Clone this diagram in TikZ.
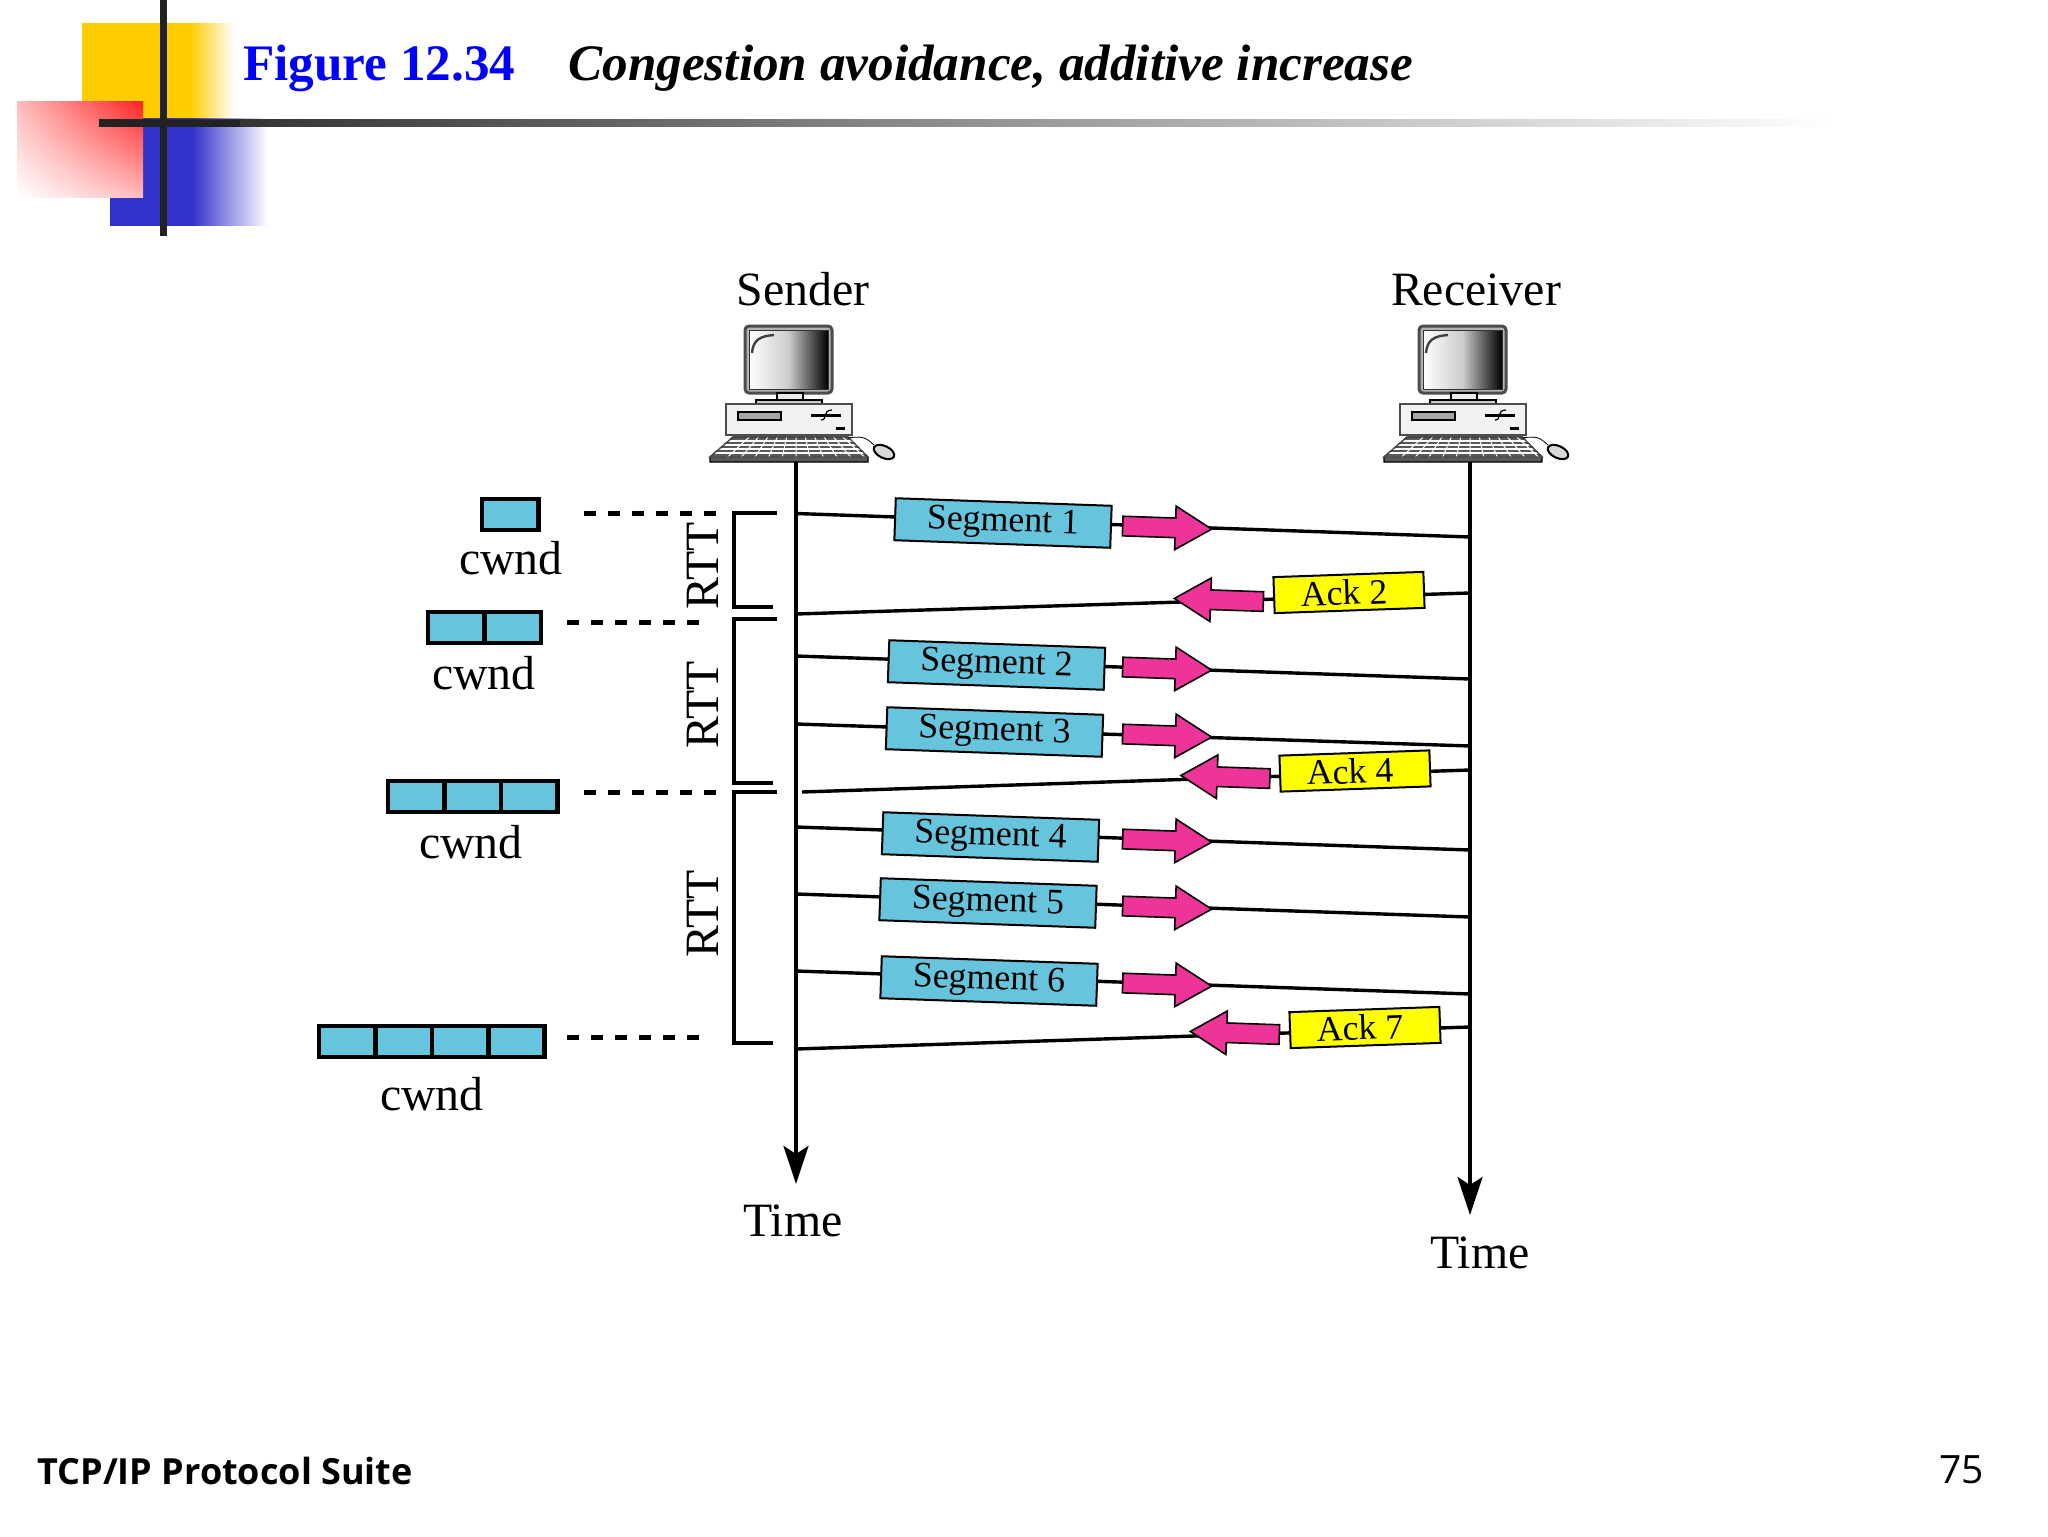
\documentclass[tikz,border=0pt]{standalone}
\usepackage{fontspec}
\setmainfont{Liberation Serif}
\newfontfamily\footfont{Open Sans}
\usepackage{xcolor}
\usetikzlibrary{positioning, shapes.arrows, arrows.meta, shadings}
\definecolor{segblue}{HTML}{66C5DC}
\definecolor{ackyellow}{HTML}{FFFF00}
\definecolor{hotpink}{HTML}{EE3399}
\definecolor{logoyellow}{HTML}{FFCC00}
\definecolor{logoblue}{HTML}{3333CC}
\definecolor{logored}{HTML}{FF2222}
\definecolor{logoline}{HTML}{222222}
\definecolor{titleblue}{HTML}{0000FF}
\pgfdeclarehorizontalshading{yellowfade}{100bp}{color(0bp)=(logoyellow); color(60.5bp)=(logoyellow); color(75bp)=(white); color(100bp)=(white)}
\pgfdeclarehorizontalshading{bluefade}{100bp}{color(0bp)=(logoblue); color(51bp)=(logoblue); color(75bp)=(white); color(100bp)=(white)}
\tikzset{
    pics/computer/.style={code={
        % monitor
        \draw[line width=1.5pt, draw=black!70, fill=black!30, rounded corners=2pt] (-51,-136) rectangle (36,-69);
        \shade[left color=white, right color=black, middle color=white!80!black, draw=black!80, line width=.5pt] (-47,-132) rectangle (32,-73);
        \draw[line width=1.2pt, black!75] (-44,-109) .. controls (-43,-122) and (-36,-126) .. (-22,-127);
        \draw[line width=.6pt, fill=black!8] (-19,-69) rectangle (7,-61);
        \draw[line width=.8pt, fill=black!20] (-40,-62) rectangle (26,-58);
        % case
        \draw[line width=.7pt, draw=black!70, fill=black!5] (-70,-58) rectangle (56,-27);
        \draw[line width=.6pt, fill=black!35] (-58,-50) rectangle (-15,-42);
        \draw[line width=1.5pt] (15,-47) -- (45,-47);
        \draw[line width=.6pt] (25,-42) .. controls (32,-42) and (26,-52) .. (36,-52);
        \fill (40,-35) rectangle (49,-32);
        % keyboard
        \draw[line width=.7pt, fill=black!65] (-63,-25) -- (52,-25) -- (72,-5) -- (72,0) -- (-86,0) -- (-86,-5) -- cycle;
        \foreach \kx in {-0.9,-0.72,...,0.95} {
            \draw[white, line width=.5pt] (\kx*52,-25) -- (\kx*76,-5);
        }
        \foreach \ky in {-21,-17,-13,-9} {
            \draw[white, line width=.6pt] (-82,\ky) -- (70,\ky);
        }
        \draw[line width=.7pt, draw=black!70] (-63,-25) -- (52,-25) -- (72,-5) -- (-86,-5) -- cycle;
        % mouse
        \draw[line width=.4pt] (52,-24) .. controls (70,-27) and (72,-22) .. (78,-17);
        \draw[line width=1pt, fill=black!15, rotate around={-25:(88,-10)}] (88,-10) ellipse (11 and 6);
    }},
    segbox/.style={rectangle, draw, line width=1pt, fill=segblue, font=\fontsize{17.9}{20}\selectfont, minimum width=108pt, minimum height=21pt, inner sep=0pt, rotate=-2},
    ackbox/.style={rectangle, draw, line width=1pt, fill=ackyellow, font=\fontsize{17.9}{20}\selectfont, minimum width=75pt, minimum height=18pt, inner sep=0pt, rotate=2, execute at end node={\hspace{5pt}}},
    blockarrow/.style={single arrow, draw, line width=.8pt, fill=hotpink, minimum height=44.5pt, minimum width=21pt, single arrow head extend=6pt, single arrow tip angle=62, inner xsep=0pt, inner ysep=4.5pt, anchor=center},
    cell/.style={rectangle, draw, line width=2.3pt, fill=segblue, minimum width=28.2pt, minimum height=15.5pt, inner sep=0pt, outer sep=0pt},
    txtlabel/.style={font=\fontsize{23.9}{26}\selectfont, anchor=base, inner sep=0pt},
    msg/.style={line width=1.7pt},
    timeline/.style={line width=2pt, -{Stealth[length=19pt, width=12.5pt, inset=4pt]}},
    dashline/.style={line width=2.5pt, dash pattern=on 6pt off 6pt},
    bracket/.style={line width=2pt}
}
\begin{document}
\begin{tikzpicture}[x=0.5pt, y=-0.5pt]
    \useasboundingbox (0,0) rectangle (2048,1536);

    % logo
    \shade[shading=yellowfade] (82,24) rectangle (234,125);
    \shade[shading=bluefade] (110,118) rectangle (268,225);
    \shade[shading=bilinear interpolation, upper right=logored, lower left=white, upper left=logored!30, lower right=logored!30] (17,102) rectangle (143,197);
    \shade[left color=logoline, right color=white] (99,119.5) rectangle (1830,126.5);
    \fill[logoline] (99,119.5) rectangle (240,126.5);
    \fill[logoline] (159.5,0) rectangle (166.5,236);

    % title and footer
    \node[anchor=base west, inner sep=0pt, text=titleblue, font=\fontsize{25.6}{28}\selectfont\bfseries] (figno) at (243,81) {Figure 12.34};
    \node[anchor=base west, inner sep=0pt, font=\fontsize{25.6}{28}\selectfont\bfseries\itshape] (figtitle) at (568,81) {Congestion avoidance, additive increase};
    \node[anchor=base west, inner sep=0pt, font=\footfont\fontsize{18}{20}\selectfont\bfseries] (suite) at (37,1484) {TCP/IP Protocol Suite};
    \node[anchor=base east, inner sep=0pt, font=\footfont\fontsize{19.5}{24}\selectfont] (pageno) at (1984,1483) {75};

    % hosts
    \node[txtlabel] (sender) at (803,305) {Sender};
    \node[txtlabel] (receiver) at (1476,305) {Receiver};
    \pic at (796,462) {computer};
    \pic at (1470,462) {computer};

    \coordinate (sendtop) at (796,462);
    \coordinate (sendend) at (796,1184);
    \coordinate (recvtop) at (1470,462);
    \coordinate (recvend) at (1470,1215);
    \draw[timeline] (sendtop) -- (sendend);
    \draw[timeline] (recvtop) -- (recvend);
    \node[txtlabel] (time1) at (793,1236) {Time};
    \node[txtlabel] (time2) at (1480,1268) {Time};

    % messages
    \coordinate (s1) at (796,513.5);
    \coordinate (r1) at (1470,537);
    \coordinate (s2) at (796,614);
    \coordinate (r2) at (1470,593);
    \coordinate (s3) at (796,656);
    \coordinate (r3) at (1470,679);
    \coordinate (s4) at (796,724);
    \coordinate (r4) at (1470,746);
    \coordinate (s5) at (802,792);
    \coordinate (r5) at (1470,770);
    \coordinate (s6) at (796,827);
    \coordinate (r6) at (1470,850);
    \coordinate (s7) at (796,894);
    \coordinate (r7) at (1470,917);
    \coordinate (s8) at (796,971);
    \coordinate (r8) at (1470,994);
    \coordinate (s9) at (796,1049);
    \coordinate (r9) at (1470,1027);
    \draw[msg] (s1) -- (r1);
    \draw[msg] (s2) -- (r2);
    \draw[msg] (s3) -- (r3);
    \draw[msg] (s4) -- (r4);
    \draw[msg] (s5) -- (r5);
    \draw[msg] (s6) -- (r6);
    \draw[msg] (s7) -- (r7);
    \draw[msg] (s8) -- (r8);
    \draw[msg] (s9) -- (r9);

    \node[segbox] (seg1) at (1003,523) {Segment 1};
    \node[ackbox] (ack2) at (1349,592.5) {Ack 2};
    \node[segbox] (seg2) at (996.5,665) {Segment 2};
    \node[segbox] (seg3) at (994.5,732) {Segment 3};
    \node[ackbox] (ack4) at (1355,771) {Ack 4};
    \node[segbox] (seg4) at (990.5,837) {Segment 4};
    \node[segbox] (seg5) at (988,903) {Segment 5};
    \node[segbox] (seg6) at (989,981) {Segment 6};
    \node[ackbox] (ack7) at (1365,1027.5) {Ack 7};

    \node[blockarrow, rotate=-2] (arr1) at (1159,527.3) {};
    \node[blockarrow, rotate=178] (arr2) at (1227,600.3) {};
    \node[blockarrow, rotate=-2] (arr3) at (1159,668.3) {};
    \node[blockarrow, rotate=-2] (arr4) at (1159,735.3) {};
    \node[blockarrow, rotate=178] (arr5) at (1233.5,777.3) {};
    \node[blockarrow, rotate=-2] (arr6) at (1159,840.3) {};
    \node[blockarrow, rotate=-2] (arr7) at (1159,907.3) {};
    \node[blockarrow, rotate=-2] (arr8) at (1159,984.3) {};
    \node[blockarrow, rotate=178] (arr9) at (1243,1033.3) {};

    % congestion window
    \node[cell, anchor=west] (cw1a) at (482,514.5) {};
    \node[txtlabel] (cwnd1) at (511,574) {cwnd};

    \node[cell, anchor=west] (cw2a) at (428,627.5) {};
    \node[cell, right=0pt of cw2a] (cw2b) {};
    \node[txtlabel] (cwnd2) at (484,689) {cwnd};

    \node[cell, anchor=west] (cw3a) at (388,796.5) {};
    \node[cell, right=0pt of cw3a] (cw3b) {};
    \node[cell, right=0pt of cw3b] (cw3c) {};
    \node[txtlabel] (cwnd3) at (471,858) {cwnd};

    \node[cell, anchor=west] (cw4a) at (319,1041.5) {};
    \node[cell, right=0pt of cw4a] (cw4b) {};
    \node[cell, right=0pt of cw4b] (cw4c) {};
    \node[cell, right=0pt of cw4c] (cw4d) {};
    \node[txtlabel] (cwnd4) at (432,1110) {cwnd};

    % dashes
    \coordinate (d1a) at (584,513);
    \coordinate (d1b) at (717,513);
    \coordinate (d2a) at (567,622.5);
    \coordinate (d2b) at (701,622.5);
    \coordinate (d3a) at (584,792);
    \coordinate (d3b) at (717,792);
    \coordinate (d4a) at (567,1037);
    \coordinate (d4b) at (701,1037);
    \draw[dashline] (d1a) -- (d1b);
    \draw[dashline] (d2a) -- (d2b);
    \draw[dashline] (d3a) -- (d3b);
    \draw[dashline] (d4a) -- (d4b);

    % RTT brackets
    \draw[bracket] (777,513) -- (734,513) -- (734,607) -- (773,607);
    \draw[bracket] (777,619) -- (734,619) -- (734,783) -- (773,783);
    \draw[bracket] (777,792) -- (734,792) -- (734,1043) -- (773,1043);
    \node[txtlabel, rotate=90] (rtt1) at (718,566) {RTT};
    \node[txtlabel, rotate=90] (rtt2) at (718,705) {RTT};
    \node[txtlabel, rotate=90] (rtt3) at (718,914) {RTT};
\end{tikzpicture}
\end{document}
